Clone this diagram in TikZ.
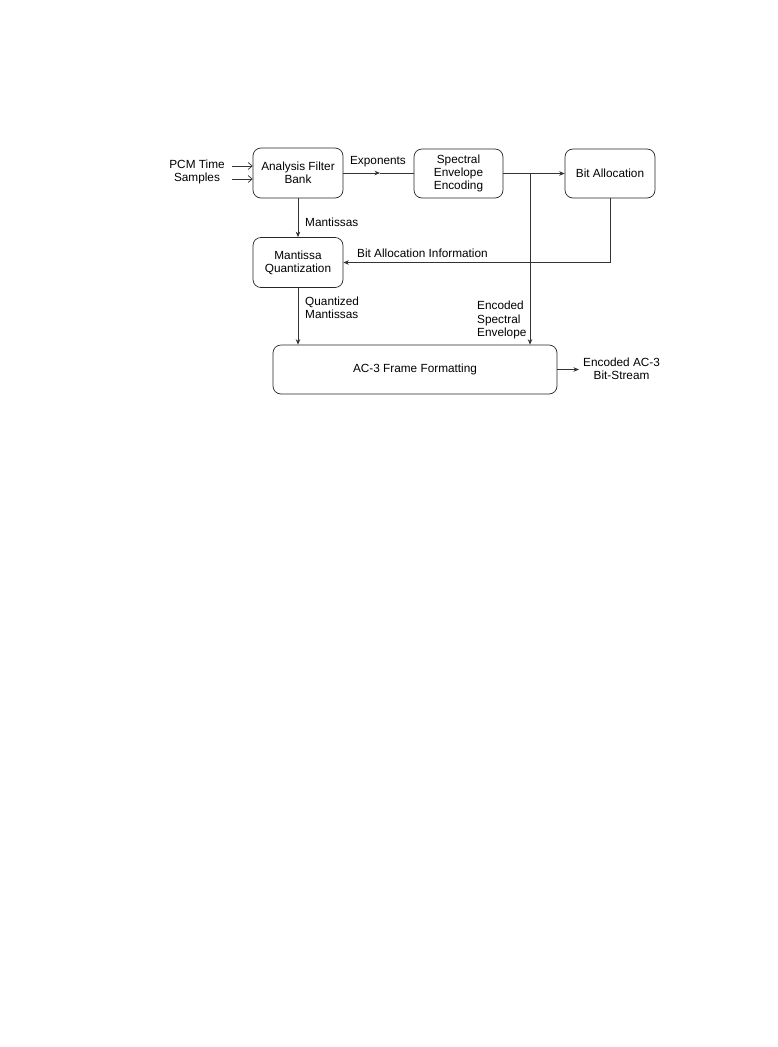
\documentclass[tikz,border=0pt]{standalone}
\usepackage{fontspec}
\setmainfont{Liberation Sans}
\usetikzlibrary{arrows.meta}
\tikzset{
  blk/.style={draw=black!85, line width=0.7pt, rounded corners=8pt, inner sep=0pt, align=center, font=\fs},
  lbl/.style={inner sep=0pt, font=\fs},
  ln/.style={draw=black!80, line width=0.7pt},
  arr/.style={ln, -{Stealth[length=5.5pt,width=4.5pt]}},
  openarr/.style={ln, -{Straight Barb[length=4pt,width=7pt]}},
}
\newcommand{\fs}{\fontsize{11.8}{13.2}\selectfont}
\begin{document}
\begin{tikzpicture}[x=1pt,y=-1pt]
\useasboundingbox (0,0) rectangle (777,1047);
\node[blk, minimum width=90pt, minimum height=50pt] (afb) at (298,173) {Analysis Filter\\Bank};
\node[blk, minimum width=89pt, minimum height=49pt] (see) at (458.5,173.5) {Spectral\\Envelope\\Encoding};
\node[blk, minimum width=90pt, minimum height=49pt] (ba) at (610,173.5) {Bit Allocation};
\node[blk, minimum width=90pt, minimum height=50pt] (mq) at (298,262.5) {Mantissa\\Quantization};
\node[blk, minimum width=284pt, minimum height=49pt] (fr) at (415,369.5) {AC-3 Frame Formatting};

\node[lbl, align=center] (pcm) at (197,172) {PCM Time\\Samples};
\coordinate (in1) at (232,166);
\coordinate (in2) at (232,179);
\draw[openarr] (in1) -- (in1 -| afb.west);
\draw[openarr] (in2) -- (in2 -| afb.west);

% Exponents
\coordinate (expm) at (380,173);
\draw[arr] (afb.east |- expm) -- (expm);
\draw[ln] (expm) -- (see.west |- expm);
\node[lbl, anchor=south] (explbl) at (378,167) {Exponents};

% SEE to BA and down to frame
\coordinate (j) at (530,173.5);
\draw[arr] (see.east) -- (ba.west);
\draw[arr] (j) -- (j |- fr.north);
\node[lbl, align=left, anchor=south west] (esl) at (477,339) {Encoded\\Spectral\\Envelope};

% Mantissas
\draw[arr] (afb.south) -- (mq.north);
\node[lbl, anchor=west] (mlbl) at (305,222) {Mantissas};

% Bit allocation info
\coordinate (bc) at (610,262.5);
\draw[ln] (ba.south) -- (bc);
\draw[arr] (bc) -- (mq.east);
\node[lbl, anchor=south west] (bai) at (357,258) {Bit Allocation Information};

% Quantized mantissas
\draw[arr] (mq.south) -- (mq.south |- fr.north);
\node[lbl, align=left, anchor=north west] (qm) at (305,297) {Quantized\\Mantissas};

% Output
\coordinate (out) at (579,369.5);
\draw[arr] (fr.east) -- (out);
\node[lbl, align=center, anchor=west] (outlbl) at (583,369) {Encoded AC-3\\Bit-Stream};
\end{tikzpicture}
\end{document}
